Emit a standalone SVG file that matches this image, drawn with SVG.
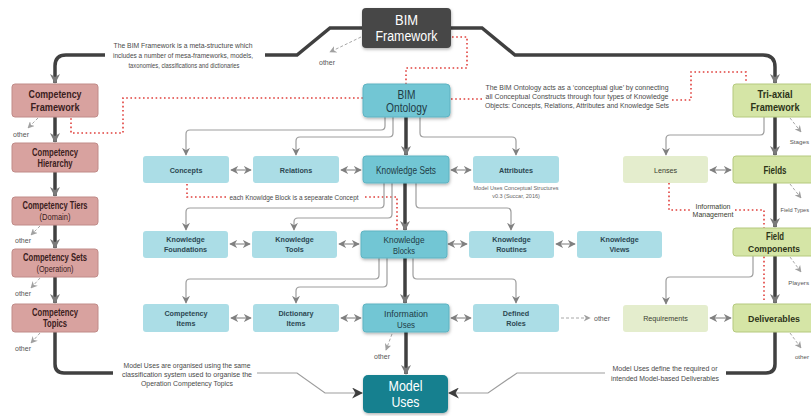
<svg xmlns="http://www.w3.org/2000/svg" width="811" height="416" viewBox="0 0 811 416">
<style>
text{font-family:"Liberation Sans",Arial,sans-serif;text-anchor:middle}
.lt{fill:#abdde6}
.dt{fill:#72c6d4;stroke:#5fb3c2;stroke-width:1;filter:url(#sh)}
.pk{fill:#d8a29f;stroke:#c08b88;stroke-width:1}
.lg{fill:#e4edcd}
.mg{fill:#d5e5a6;stroke:#b5c97e;stroke-width:1}
.tl{font-size:7.2px;font-weight:bold;fill:#2c4852}
.tm{font-size:9.5px;fill:#1f3c46}
.tp{font-size:10px;font-weight:bold;fill:#3a2020}
.tps{font-size:9px;fill:#3a2020}
.tg{font-size:10.5px;font-weight:bold;fill:#2c3318}
.tgs{font-size:7.2px;fill:#3a4030}
.desc{font-size:7.5px;fill:#4a4a4a}
.oth{font-size:7px;fill:#555}
.edge{font-size:6.2px;fill:#555;text-anchor:end}
.thin{fill:none;stroke:#9d9d9d;stroke-width:1.2}
.thick{fill:none;stroke:#404040;stroke-width:3.5}
.dash{fill:none;stroke:#a8a8a8;stroke-width:1;stroke-dasharray:3 2}
.red{fill:none;stroke:#e0403c;stroke-width:1.6;stroke-dasharray:1.6 2.6}
.bi{fill:none;stroke:#9a9a9a;stroke-width:1.3}
</style>
<defs>
<filter id="sh" x="-10%" y="-10%" width="125%" height="140%"><feDropShadow dx="0.5" dy="1.5" stdDeviation="1.5" flood-color="#000" flood-opacity="0.3"/></filter>
<marker id="ah" viewBox="0 0 10 10" refX="9" refY="5" markerWidth="8" markerHeight="8" markerUnits="userSpaceOnUse" orient="auto-start-reverse"><path d="M0,0 L10,5 L0,10 L3,5 z" fill="#808080"/></marker>
<marker id="ahb" viewBox="0 0 10 10" refX="9" refY="5" markerWidth="10" markerHeight="10" markerUnits="userSpaceOnUse" orient="auto"><path d="M0,0 L10,5 L0,10 L3,5 z" fill="#7a7a7a"/></marker>
<marker id="ahd" viewBox="0 0 10 10" refX="9" refY="5" markerWidth="11" markerHeight="11" markerUnits="userSpaceOnUse" orient="auto"><path d="M0,0 L10,5 L0,10 L3,5 z" fill="#3d3d3d"/></marker>
<marker id="ahs" viewBox="0 0 10 10" refX="9" refY="5" markerWidth="7" markerHeight="7" markerUnits="userSpaceOnUse" orient="auto"><path d="M0,0 L10,5 L0,10 L3,5 z" fill="#a0a0a0"/></marker>
</defs>
<rect width="811" height="416" fill="#ffffff"/>

<g id="connectors">
<path class="thick" d="M362,28 H330 L297,55 H265"/>
<path class="thick" d="M105,55 H66 Q55,55 55,66 V83" marker-end="url(#ahb)"/>
<path class="thick" d="M451,28 H482 L515,55 H763 Q775,55 775,67 V83" marker-end="url(#ahb)"/>
<path class="red" d="M452,37 H467 V68 H406 V84"/>
<path class="dash" d="M361,37 L330,52" marker-end="url(#ahs)"/>
<path class="red" d="M363,98 H123 V133 H71 V118"/>
<path class="red" d="M451,99 H482"/>
<path class="red" d="M672,100 H691 V72 H746 V83"/>
<path class="thin" d="M385,117 V126 Q385,130 381,130 H190 Q186,130 186,134 V155" marker-end="url(#ah)"/>
<path class="thin" d="M393,117 V133 Q393,137 389,137 H300 Q296,137 296,141 V155" marker-end="url(#ah)"/>
<path class="thick" d="M406,117 V155" marker-end="url(#ahb)"/>
<path class="thin" d="M420,117 V133 Q420,137 424,137 H512 Q516,137 516,141 V155" marker-end="url(#ah)"/>
<path class="bi" d="M231,170 H251" marker-start="url(#ah)" marker-end="url(#ah)"/>
<path class="bi" d="M341,170 H361" marker-start="url(#ah)" marker-end="url(#ah)"/>
<path class="bi" d="M451,170 H471" marker-start="url(#ah)" marker-end="url(#ah)"/>
<path class="red" d="M187,184 V197 H227"/>
<path class="red" d="M365,197 H397 V231"/>
<path class="thin" d="M384,183 V204 Q384,208 380,208 H190 Q186,208 186,212 V230" marker-end="url(#ah)"/>
<path class="thin" d="M392,183 V214 Q392,218 388,218 H298 Q294,218 294,222 V230" marker-end="url(#ah)"/>
<path class="thick" d="M405,183 V230" marker-end="url(#ahb)"/>
<path class="thin" d="M416,183 V204 Q416,208 420,208 H507 Q511,208 511,212 V230" marker-end="url(#ah)"/>
<path class="bi" d="M230,244 H250" marker-start="url(#ah)" marker-end="url(#ah)"/>
<path class="bi" d="M339,244 H359" marker-start="url(#ah)" marker-end="url(#ah)"/>
<path class="bi" d="M448,244 H467" marker-start="url(#ah)" marker-end="url(#ah)"/>
<path class="bi" d="M556,244 H575" marker-start="url(#ah)" marker-end="url(#ah)"/>
<path class="thin" d="M379,258 V275 Q379,279 375,279 H190 Q186,279 186,283 V303" marker-end="url(#ah)"/>
<path class="thin" d="M387,258 V283 Q387,287 383,287 H300 Q296,287 296,291 V303" marker-end="url(#ah)"/>
<path class="thick" d="M405,258 V303" marker-end="url(#ahb)"/>
<path class="thin" d="M413,258 V275 Q413,279 417,279 H512 Q516,279 516,283 V303" marker-end="url(#ah)"/>
<path class="bi" d="M231,318 H251" marker-start="url(#ah)" marker-end="url(#ah)"/>
<path class="bi" d="M341,318 H361" marker-start="url(#ah)" marker-end="url(#ah)"/>
<path class="bi" d="M451,318 H471" marker-start="url(#ah)" marker-end="url(#ah)"/>
<path class="dash" d="M561,318 H590" marker-end="url(#ahs)"/>
<path class="dash" d="M392,334 L386,350" marker-end="url(#ahs)"/>
<path class="thick" d="M406,332 V374" marker-end="url(#ahb)"/>
<path class="thick" d="M55,117 V142" marker-end="url(#ahb)"/>
<path class="thick" d="M55,172 V196" marker-end="url(#ahb)"/>
<path class="thick" d="M55,225 V248" marker-end="url(#ahb)"/>
<path class="thick" d="M55,277 V303" marker-end="url(#ahb)"/>
<path class="dash" d="M38,118 L28,128" marker-end="url(#ahs)"/>
<path class="dash" d="M40,226 L31,235" marker-end="url(#ahs)"/>
<path class="dash" d="M40,278 L31,288" marker-end="url(#ahs)"/>
<path class="dash" d="M40,333 L31,343" marker-end="url(#ahs)"/>
<path class="thick" d="M55,332 V364 Q55,373 64,373 H113"/>
<path class="thin" d="M257,373 H297 L325,393 H362" marker-end="url(#ahd)"/>
<path class="thick" d="M775,117 V155" marker-end="url(#ahb)"/>
<path class="thick" d="M775,183 V227" marker-end="url(#ahb)"/>
<path class="thick" d="M775,256 V303" marker-end="url(#ahb)"/>
<path class="thin" d="M764,117 V131 Q764,135 760,135 H670 Q666,135 666,139 V155" marker-end="url(#ah)"/>
<path class="bi" d="M710,170 H731" marker-start="url(#ah)" marker-end="url(#ah)"/>
<path class="dash" d="M790,118 L801,132" marker-end="url(#ahs)"/>
<path class="dash" d="M790,184 L801,198" marker-end="url(#ahs)"/>
<path class="red" d="M669,183 V210 H690"/>
<path class="red" d="M735,210 H764 V300"/>
<path class="thin" d="M753,256 V273 Q753,277 749,277 H670 Q666,277 666,281 V304" marker-end="url(#ah)"/>
<path class="bi" d="M710,318 H731" marker-start="url(#ah)" marker-end="url(#ah)"/>
<path class="dash" d="M790,257 L801,272" marker-end="url(#ahs)"/>
<path class="dash" d="M790,333 L801,348" marker-end="url(#ahs)"/>
<path class="thick" d="M775,332 V364 Q775,373 766,373 H726"/>
<path class="thin" d="M605,373 H517 L488,393 H449" marker-end="url(#ahd)"/>
</g>

<g id="labels">
<text class="desc" x="183" y="47.5" textLength="139" lengthAdjust="spacingAndGlyphs">The BIM Framework is a meta-structure which</text>
<text class="desc" x="183" y="57.5" textLength="140" lengthAdjust="spacingAndGlyphs">includes a number of mesa-frameworks, models,</text>
<text class="desc" x="184" y="67.5" textLength="111" lengthAdjust="spacingAndGlyphs">taxonomies, classifications and dictionaries</text>
<text class="oth" x="327" y="65">other</text>
<text class="desc" x="577" y="90" textLength="183" lengthAdjust="spacingAndGlyphs">The BIM Ontology acts as a ‘conceptual glue’ by connecting</text>
<text class="desc" x="577" y="99" textLength="183" lengthAdjust="spacingAndGlyphs">all Conceptual Constructs through four types of Knowledge</text>
<text class="desc" x="577" y="108" textLength="184" lengthAdjust="spacingAndGlyphs">Objects: Concepts, Relations, Attributes and Knowledge Sets</text>
<text class="desc" x="294" y="200" textLength="129" lengthAdjust="spacingAndGlyphs">each Knowldge Block is a sepearate Concept</text>
<text style="font-size:5.5px;fill:#666" x="516" y="190">Model Uses Conceptual Structures</text>
<text style="font-size:5.5px;fill:#666" x="516" y="198">v0.3 (Succar, 2016)</text>
<text class="oth" x="21" y="137">other</text>
<text class="oth" x="23" y="243">other</text>
<text class="oth" x="23" y="296">other</text>
<text class="oth" x="23" y="351">other</text>
<text class="oth" x="602" y="321">other</text>
<text class="oth" x="382" y="359">other</text>
<text class="edge" x="809" y="144">Stages</text>
<text class="edge" x="809" y="212" style="font-size:5.6px">Field Types</text>
<text class="tgs" x="713" y="209" style="font-size:7px">Information</text>
<text class="tgs" x="713" y="217" style="font-size:7px">Management</text>
<text class="edge" x="809" y="285">Players</text>
<text class="edge" x="809" y="359">other</text>
<text class="desc" x="187" y="368" textLength="127" lengthAdjust="spacingAndGlyphs">Model Uses are organised using the same</text>
<text class="desc" x="187" y="377" textLength="130" lengthAdjust="spacingAndGlyphs">classification system used to organise the</text>
<text class="desc" x="187" y="386" textLength="92" lengthAdjust="spacingAndGlyphs">Operation Competency Topics</text>
<text class="desc" x="665" y="371" textLength="105" lengthAdjust="spacingAndGlyphs">Model Uses define the required or</text>
<text class="desc" x="665" y="381" textLength="108" lengthAdjust="spacingAndGlyphs">intended Model-based Deliverables</text>
</g>

<g id="bim-framework"><rect x="362" y="8" width="89" height="40" rx="4" fill="#474747" filter="url(#sh)"/><text x="406.5" y="25" style="font-size:14px;fill:#fff" textLength="23" lengthAdjust="spacingAndGlyphs">BIM</text><text x="406.5" y="41" style="font-size:14px;fill:#fff" textLength="62" lengthAdjust="spacingAndGlyphs">Framework</text></g>
<g id="bim-ontology"><rect class="dt" x="363" y="84" width="87" height="33" rx="4"/><text x="406.5" y="98.5" style="font-size:12px;fill:#1f3c46" textLength="18" lengthAdjust="spacingAndGlyphs">BIM</text><text x="406.5" y="112" style="font-size:12px;fill:#1f3c46" textLength="41" lengthAdjust="spacingAndGlyphs">Ontology</text></g>
<g id="model-uses"><rect x="363" y="375" width="85" height="38" rx="5" fill="#15808f" filter="url(#sh)"/><text x="405.5" y="391" style="font-size:14px;fill:#fff" textLength="34" lengthAdjust="spacingAndGlyphs">Model</text><text x="405.5" y="407" style="font-size:14px;fill:#fff" textLength="28" lengthAdjust="spacingAndGlyphs">Uses</text></g>

<g id="competency-framework"><rect class="pk" x="12" y="84" width="86" height="33" rx="3"/><text class="tp" x="55" y="98" style="font-size:10.5px" textLength="53" lengthAdjust="spacingAndGlyphs">Competency</text><text class="tp" x="55" y="111" style="font-size:10.5px" textLength="49" lengthAdjust="spacingAndGlyphs">Framework</text></g>
<g id="competency-hierarchy"><rect class="pk" x="12" y="143" width="86" height="29" rx="3"/><text class="tp" x="55" y="155.5" textLength="46" lengthAdjust="spacingAndGlyphs">Competency</text><text class="tp" x="55" y="167" textLength="35" lengthAdjust="spacingAndGlyphs">Hierarchy</text></g>
<g id="competency-tiers"><rect class="pk" x="12" y="197" width="86" height="28" rx="3"/><text class="tp" x="55" y="209" textLength="65" lengthAdjust="spacingAndGlyphs">Competency Tiers</text><text class="tps" x="55" y="220" textLength="31" lengthAdjust="spacingAndGlyphs">(Domain)</text></g>
<g id="competency-sets"><rect class="pk" x="12" y="249" width="86" height="28" rx="3"/><text class="tp" x="55" y="261" textLength="64" lengthAdjust="spacingAndGlyphs">Competency Sets</text><text class="tps" x="55" y="272" textLength="37" lengthAdjust="spacingAndGlyphs">(Operation)</text></g>
<g id="competency-topics"><rect class="pk" x="12" y="304" width="86" height="28" rx="3"/><text class="tp" x="55" y="316" textLength="46" lengthAdjust="spacingAndGlyphs">Competency</text><text class="tp" x="55" y="327" textLength="24" lengthAdjust="spacingAndGlyphs">Topics</text></g>

<g id="concepts"><rect class="lt" x="143" y="156" width="86" height="27" rx="3"/><text class="tl" x="186" y="173">Concepts</text></g>
<g id="relations"><rect class="lt" x="253" y="156" width="86" height="27" rx="3"/><text class="tl" x="296" y="173">Relations</text></g>
<g id="knowledge-sets"><rect class="dt" x="363" y="156" width="86" height="27" rx="3"/><text class="tm" x="406" y="173.5" style="font-size:10.5px" textLength="60" lengthAdjust="spacingAndGlyphs">Knowledge Sets</text></g>
<g id="attributes"><rect class="lt" x="473" y="156" width="86" height="27" rx="3"/><text class="tl" x="516" y="173">Attributes</text></g>

<g id="knowledge-foundations"><rect class="lt" x="143" y="231" width="85" height="27" rx="3"/><text class="tl" x="185.5" y="242">Knowledge</text><text class="tl" x="185.5" y="252">Foundations</text></g>
<g id="knowledge-tools"><rect class="lt" x="252" y="231" width="85" height="27" rx="3"/><text class="tl" x="294.5" y="242">Knowledge</text><text class="tl" x="294.5" y="252">Tools</text></g>
<g id="knowledge-blocks"><rect class="dt" x="361" y="231" width="86" height="27" rx="3"/><text class="tm" x="404" y="242.5" textLength="41" lengthAdjust="spacingAndGlyphs">Knowledge</text><text class="tm" x="404" y="253.5" textLength="22" lengthAdjust="spacingAndGlyphs">Blocks</text></g>
<g id="knowledge-routines"><rect class="lt" x="469" y="231" width="85" height="27" rx="3"/><text class="tl" x="511.5" y="242">Knowledge</text><text class="tl" x="511.5" y="252">Routines</text></g>
<g id="knowledge-views"><rect class="lt" x="577" y="231" width="85" height="27" rx="3"/><text class="tl" x="619.5" y="242">Knowledge</text><text class="tl" x="619.5" y="252">Views</text></g>

<g id="competency-items"><rect class="lt" x="143" y="304" width="86" height="28" rx="3"/><text class="tl" x="186" y="316">Competency</text><text class="tl" x="186" y="326">Items</text></g>
<g id="dictionary-items"><rect class="lt" x="253" y="304" width="86" height="28" rx="3"/><text class="tl" x="296" y="316">Dictionary</text><text class="tl" x="296" y="326">Items</text></g>
<g id="information-uses"><rect class="dt" x="363" y="304" width="86" height="28" rx="3"/><text class="tm" x="406" y="316.5" textLength="44" lengthAdjust="spacingAndGlyphs">Information</text><text class="tm" x="406" y="327.5" textLength="18" lengthAdjust="spacingAndGlyphs">Uses</text></g>
<g id="defined-roles"><rect class="lt" x="473" y="304" width="86" height="28" rx="3"/><text class="tl" x="516" y="316">Defined</text><text class="tl" x="516" y="326">Roles</text></g>

<g id="tri-axial-framework"><rect class="mg" x="733" y="84" width="86" height="33" rx="3"/><text class="tg" x="775" y="98" textLength="35" lengthAdjust="spacingAndGlyphs">Tri-axial</text><text class="tg" x="775" y="111" textLength="49" lengthAdjust="spacingAndGlyphs">Framework</text></g>
<g id="lenses"><rect class="lg" x="623" y="156" width="85" height="27" rx="3"/><text class="tgs" x="665.5" y="172.5">Lenses</text></g>
<g id="fields"><rect class="mg" x="733" y="156" width="86" height="27" rx="3"/><text class="tg" x="775" y="173.5" textLength="23" lengthAdjust="spacingAndGlyphs">Fields</text></g>
<g id="field-components"><rect class="mg" x="733" y="228" width="86" height="28" rx="3"/><text class="tg" x="775" y="240" textLength="18" lengthAdjust="spacingAndGlyphs">Field</text><text class="tg" x="774" y="252" style="font-size:8.5px">Components</text></g>
<g id="requirements"><rect class="lg" x="623" y="305" width="85" height="27" rx="3"/><text class="tgs" x="665.5" y="321">Requirements</text></g>
<g id="deliverables"><rect class="mg" x="733" y="304" width="86" height="28" rx="3"/><text class="tg" x="774" y="321.5" style="font-size:8.8px">Deliverables</text></g>
</svg>
